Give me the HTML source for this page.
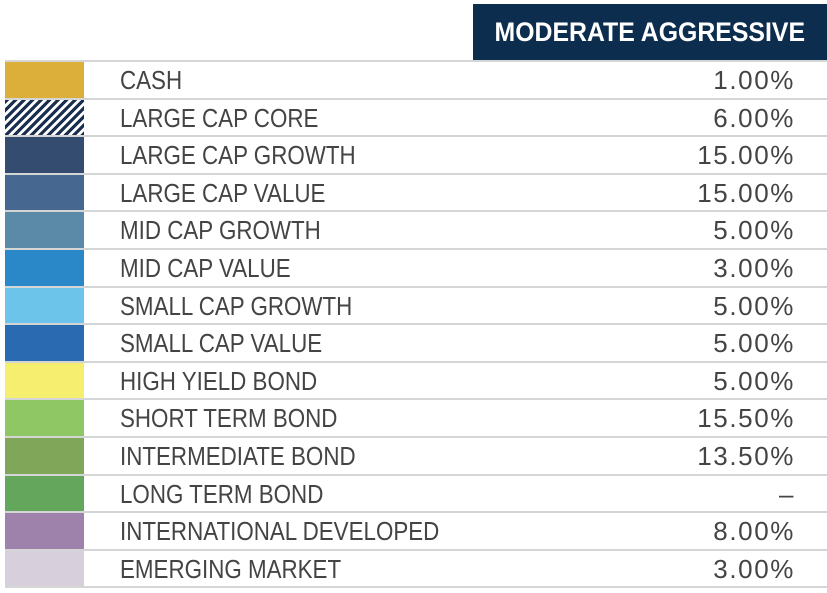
<!DOCTYPE html>
<html><head><meta charset="utf-8"><style>
body{margin:0;width:827px;height:593px;background:#fff;overflow:hidden;font-family:"Liberation Sans",sans-serif;position:relative}
#hdr{position:absolute;left:473px;top:4px;width:354px;height:57px;background:#0d2d4e;color:#fff;font-weight:bold;font-size:27px;display:flex;align-items:center;justify-content:center}
#hdr span{display:inline-block;transform:scaleX(0.92)}
#tbl{position:absolute;left:5px;top:60px;width:822px}
.row{position:relative;height:37.6px;box-sizing:border-box;border-top:2px solid #d4d6d6}
.row:last-child{border-bottom:2px solid #d4d6d6;height:39.6px}
.sw{position:absolute;left:0;top:0;width:79px;height:100%}
.lab{position:absolute;left:115px;top:3px;font-size:26px;color:#444;white-space:nowrap;transform:scaleX(0.86);transform-origin:left}
.val{position:absolute;right:32px;top:3px;font-size:26px;color:#444;letter-spacing:1.6px}
</style></head><body>
<div id="hdr"><span>MODERATE AGGRESSIVE</span></div>
<div id="tbl"></div>
<script>
const labels=["CASH","LARGE CAP CORE","LARGE CAP GROWTH","LARGE CAP VALUE","MID CAP GROWTH","MID CAP VALUE","SMALL CAP GROWTH","SMALL CAP VALUE","HIGH YIELD BOND","SHORT TERM BOND","INTERMEDIATE BOND","LONG TERM BOND","INTERNATIONAL DEVELOPED","EMERGING MARKET"];
const values=["1.00%","6.00%","15.00%","15.00%","5.00%","3.00%","5.00%","5.00%","5.00%","15.50%","13.50%","–","8.00%","3.00%"];
const colors=["#dcae3a","hatch","#344c70","#46678f","#5a8aa8","#2a87c8","#6cc4ea","#2a6ab0","#f5ee6e","#8fc765","#80a65a","#64a65c","#9e82ab","#d7d0dc"];
const tbl=document.getElementById('tbl');
labels.forEach((l,i)=>{
  const r=document.createElement('div');r.className='row';
  
  
  const s=document.createElement('div');s.className='sw';
  
  
  if(colors[i]==='hatch')s.style.background='repeating-linear-gradient(135deg,#1a2f4f 0 3px,#fff 3px 6px)';
  else s.style.background=colors[i];
  const t=document.createElement('div');t.className='lab';t.textContent=l;
  
  
  const v=document.createElement('div');v.className='val';v.textContent=values[i];
  
  
  r.append(s,t,v);tbl.appendChild(r);
});
</script>
</body></html>
